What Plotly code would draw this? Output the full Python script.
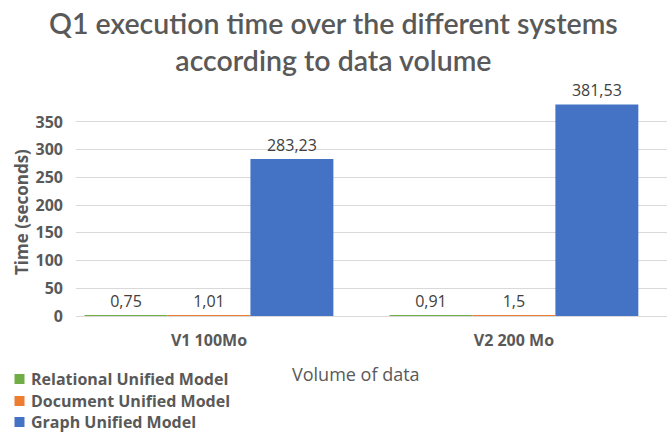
import plotly.graph_objects as go

categories = ["V1 100Mo", "V2 200 Mo"]
series_names = ["Relational Unified Model", "Document Unified Model", "Graph Unified Model"]
relational = [0.75, 0.91]
document = [1.01, 1.5]
graph = [283.23, 381.53]
y_ticks = [0, 50, 100, 150, 200, 250, 300, 350]

colors = ["#70AD47", "#ED7D31", "#4472C4"]
series_values = [relational, document, graph]

def fmt(v):
    s = ("%.2f" % v).rstrip("0").rstrip(".")
    return s.replace(".", ",")

W, H = 667, 434
PL, PR, PT, PB = 76, 667, 97, 316

def px(x):
    return (x - PL) / (PR - PL)

def py(y):
    return (PB - y) / (PB - PT)

GRAY = "#595959"
FONT = "Open Sans"

fig = go.Figure()
for name, vals, col in zip(series_names, series_values, colors):
    fig.add_trace(go.Bar(
        x=categories, y=vals, name=name, marker_color=col,
        marker_line_width=0,
        text=[fmt(v) for v in vals], textposition="outside",
        textfont=dict(family=FONT, size=16, color="#404040"),
        cliponaxis=False, showlegend=False,
    ))

fig.update_layout(
    width=W, height=H,
    margin=dict(l=PL, r=W - PR, t=PT, b=H - PB, autoexpand=False),
    paper_bgcolor="white", plot_bgcolor="white",
    barmode="group", bargap=0.184, bargroupgap=0,
    showlegend=False,
    xaxis=dict(range=[-0.436, 1.502], showgrid=False, showline=True,
               linecolor="#D9D9D9", ticks="", ticklabelstandoff=10,
               tickfont=dict(family=FONT, size=16, color=GRAY, weight="bold")),
    yaxis=dict(range=[0, 395], tickvals=y_ticks, showgrid=True, gridcolor="#D9D9D9",
               zeroline=False, showline=False, ticks="", ticklabelstandoff=12,
               tickfont=dict(family=FONT, size=16, color=GRAY, weight="bold")),
)

# Title
fig.add_annotation(text="Q1 execution time over the different systems<br>according to data volume",
                   xref="paper", yref="paper", x=px(W / 2), y=py(42),
                   xanchor="center", yanchor="middle", showarrow=False,
                   font=dict(family="Lato", size=28.5, color=GRAY, weight=600))
# Axis titles
fig.add_annotation(text="Volume of data", xref="paper", yref="paper",
                   x=px(356), y=py(374), xanchor="center", yanchor="middle",
                   showarrow=False, font=dict(family=FONT, size=18, color=GRAY))
fig.add_annotation(text="Time (seconds)", xref="paper", yref="paper",
                   x=px(21), y=py(212), xanchor="center", yanchor="middle", textangle=-90,
                   showarrow=False, font=dict(family=FONT, size=17, color=GRAY, weight="bold"))

# Legend
legend_y = [379, 401, 422]
for name, col, ly in zip(series_names, colors, legend_y):
    fig.add_shape(type="rect", xref="paper", yref="paper",
                  x0=px(14.5), x1=px(24.5), y0=py(ly - 5), y1=py(ly + 5),
                  fillcolor=col, line_width=0)
    fig.add_annotation(text=name, xref="paper", yref="paper", x=px(29), y=py(ly),
                       xanchor="left", yanchor="middle", showarrow=False,
                       font=dict(family=FONT, size=16, color=GRAY, weight="bold"))

fig.write_html("out.html", config={"displayModeBar": False},
               post_script="document.body.style.margin='0';")
